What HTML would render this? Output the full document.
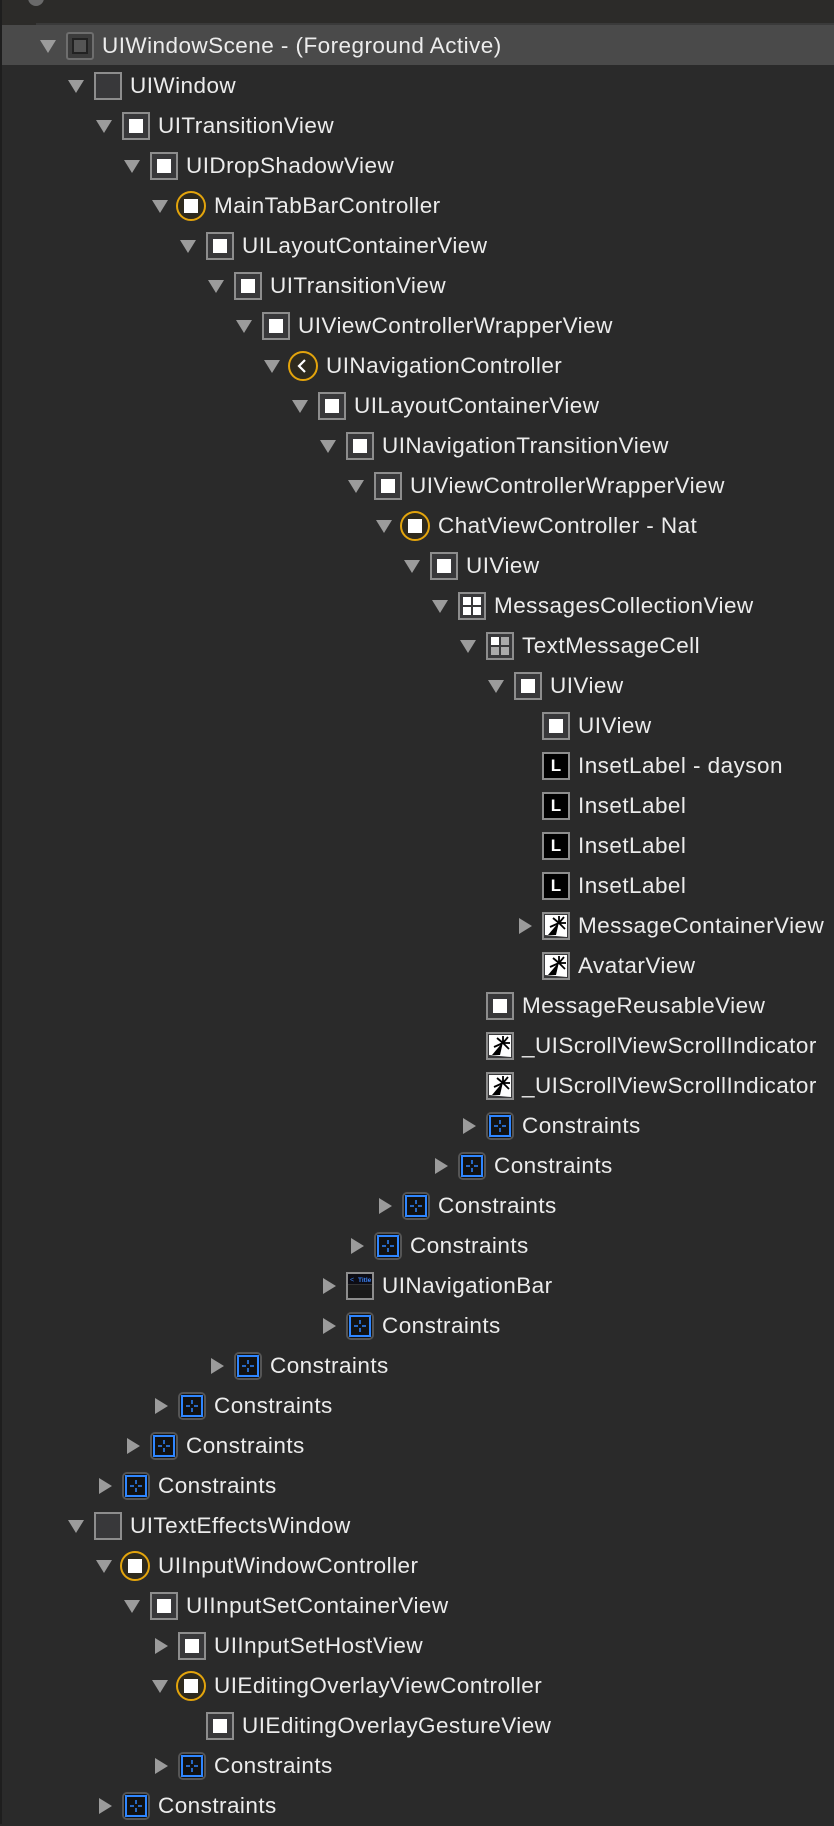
<!DOCTYPE html>
<html><head><meta charset="utf-8">
<style>
html,body{margin:0;padding:0}
body{width:834px;height:1824px;background:#2a2a2a;position:relative;overflow:hidden;font-family:"Liberation Sans",sans-serif;}
.edge{position:absolute;left:0;top:0;width:2px;height:1824px;background:#1e1e1e}
.top{position:absolute;left:2px;top:0;width:832px;height:25px;background:#2c2b29}
.topicon{position:absolute;left:26px;top:-10px;width:16px;height:16px;border-radius:50%;background:#6a6a6a}
.sep{position:absolute;left:36px;top:23px;width:798px;height:2px;background:#3a3a3a}
.hl{position:absolute;left:2px;top:25px;width:832px;height:40px;background:#4a4a4a}
.r{position:absolute;height:40px;width:800px}
.t{position:absolute;left:62px;top:0;line-height:40px;font-size:22.5px;color:#ececec;white-space:nowrap;letter-spacing:0.45px}
.d{position:absolute;left:0px;top:14px;width:0;height:0;border-left:8px solid transparent;border-right:8px solid transparent;border-top:13px solid #9b9b9b}
.a{position:absolute;left:3px;top:12px;width:0;height:0;border-top:8px solid transparent;border-bottom:8px solid transparent;border-left:13px solid #9b9b9b}
.i{position:absolute;left:26px;top:6px;width:28px;height:28px;box-sizing:border-box;border:2px solid #8d8d8d;background:#38383a}
.v::after{content:"";position:absolute;left:5px;top:5px;width:14px;height:14px;background:#fff}
.s{border-color:#6e6e6e;border-radius:3px;background:#3c3c3c}
.s::after{content:"";position:absolute;left:4px;top:4px;width:12px;height:12px;border:2px solid #222;background:#555}
.c{left:24px;top:5px;width:30px;height:30px;border-radius:50%;border:2px solid #e3a40c;background:#2e2a1e}
.c::after{content:"";position:absolute;left:6px;top:6px;width:14px;height:14px;background:#fff}
.n{left:24px;top:5px;width:30px;height:30px;border-radius:50%;border:2px solid #e3a40c;background:#2e2a1e}
.L{background:#000}
.L::after{content:"L";position:absolute;left:0;top:0;width:24px;line-height:24px;text-align:center;color:#fff;font-weight:bold;font-size:17px}
.k{border:2px solid #555;border-radius:5px;background:#111}
.k svg,.n svg,.im svg,.g svg,.nb svg{position:absolute;left:0;top:0}
</style></head><body>
<svg width="0" height="0" style="position:absolute">
<defs>
<symbol id="K" viewBox="0 0 24 24"><rect x="2" y="2" width="20" height="20" fill="none" stroke="#2f86ff" stroke-width="2"/><g stroke="#2f86ff" stroke-width="1.5"><line x1="12" y1="6" x2="12" y2="10"/><line x1="12" y1="14" x2="12" y2="18"/><line x1="6" y1="12" x2="10" y2="12"/><line x1="14" y1="12" x2="18" y2="12"/></g></symbol>
<symbol id="M" viewBox="0 0 24 24"><polygon points="1,1 23,1 23,23 1,21" fill="#fff"/><g stroke="#000" stroke-width="1.8"><line x1="15" y1="9" x2="15" y2="2"/><line x1="15" y1="9" x2="22" y2="9"/><line x1="15" y1="9" x2="20" y2="3"/><line x1="15" y1="9" x2="21" y2="15"/><line x1="15" y1="9" x2="9" y2="4"/><line x1="15" y1="9" x2="6" y2="13"/></g><polygon points="15,8 4,21 12,21" fill="#000"/></symbol>
</defs></svg>
<div class="edge"></div>
<div class="top"><div class="topicon"></div></div>
<div class="sep"></div>
<div class="hl"></div>

<div class="r" style="top:26px;left:40px"><span class="d"></span><span class="i s"></span><span class="t">UIWindowScene - (Foreground Active)</span></div>
<div class="r" style="top:66px;left:68px"><span class="d"></span><span class="i"></span><span class="t">UIWindow</span></div>
<div class="r" style="top:106px;left:96px"><span class="d"></span><span class="i v"></span><span class="t">UITransitionView</span></div>
<div class="r" style="top:146px;left:124px"><span class="d"></span><span class="i v"></span><span class="t">UIDropShadowView</span></div>
<div class="r" style="top:186px;left:152px"><span class="d"></span><span class="i c"></span><span class="t">MainTabBarController</span></div>
<div class="r" style="top:226px;left:180px"><span class="d"></span><span class="i v"></span><span class="t">UILayoutContainerView</span></div>
<div class="r" style="top:266px;left:208px"><span class="d"></span><span class="i v"></span><span class="t">UITransitionView</span></div>
<div class="r" style="top:306px;left:236px"><span class="d"></span><span class="i v"></span><span class="t">UIViewControllerWrapperView</span></div>
<div class="r" style="top:346px;left:264px"><span class="d"></span><span class="i n"><svg width="26" height="26"><polyline points="15,7 9,13 15,19" fill="none" stroke="#fff" stroke-width="2.2"/></svg></span><span class="t">UINavigationController</span></div>
<div class="r" style="top:386px;left:292px"><span class="d"></span><span class="i v"></span><span class="t">UILayoutContainerView</span></div>
<div class="r" style="top:426px;left:320px"><span class="d"></span><span class="i v"></span><span class="t">UINavigationTransitionView</span></div>
<div class="r" style="top:466px;left:348px"><span class="d"></span><span class="i v"></span><span class="t">UIViewControllerWrapperView</span></div>
<div class="r" style="top:506px;left:376px"><span class="d"></span><span class="i c"></span><span class="t">ChatViewController - Nat</span></div>
<div class="r" style="top:546px;left:404px"><span class="d"></span><span class="i v"></span><span class="t">UIView</span></div>
<div class="r" style="top:586px;left:432px"><span class="d"></span><span class="i g"><svg width="24" height="24"><rect x="3" y="3" width="8" height="8" fill="#fff"/><rect x="13" y="3" width="8" height="8" fill="#fff"/><rect x="3" y="13" width="8" height="8" fill="#fff"/><rect x="13" y="13" width="8" height="8" fill="#fff"/></svg></span><span class="t">MessagesCollectionView</span></div>
<div class="r" style="top:626px;left:460px"><span class="d"></span><span class="i g"><svg width="24" height="24"><rect x="3" y="3" width="8" height="8" fill="#fff"/><rect x="13" y="3" width="8" height="8" fill="#aaa"/><rect x="3" y="13" width="8" height="8" fill="#aaa"/><rect x="13" y="13" width="8" height="8" fill="#aaa"/></svg></span><span class="t">TextMessageCell</span></div>
<div class="r" style="top:666px;left:488px"><span class="d"></span><span class="i v"></span><span class="t">UIView</span></div>
<div class="r" style="top:706px;left:516px"><span class="i v"></span><span class="t">UIView</span></div>
<div class="r" style="top:746px;left:516px"><span class="i L"></span><span class="t">InsetLabel - dayson</span></div>
<div class="r" style="top:786px;left:516px"><span class="i L"></span><span class="t">InsetLabel</span></div>
<div class="r" style="top:826px;left:516px"><span class="i L"></span><span class="t">InsetLabel</span></div>
<div class="r" style="top:866px;left:516px"><span class="i L"></span><span class="t">InsetLabel</span></div>
<div class="r" style="top:906px;left:516px"><span class="a"></span><span class="i im"><svg width="24" height="24"><use href="#M"/></svg></span><span class="t">MessageContainerView</span></div>
<div class="r" style="top:946px;left:516px"><span class="i im"><svg width="24" height="24"><use href="#M"/></svg></span><span class="t">AvatarView</span></div>
<div class="r" style="top:986px;left:460px"><span class="i v"></span><span class="t">MessageReusableView</span></div>
<div class="r" style="top:1026px;left:460px"><span class="i im"><svg width="24" height="24"><use href="#M"/></svg></span><span class="t">_UIScrollViewScrollIndicator</span></div>
<div class="r" style="top:1066px;left:460px"><span class="i im"><svg width="24" height="24"><use href="#M"/></svg></span><span class="t">_UIScrollViewScrollIndicator</span></div>
<div class="r" style="top:1106px;left:460px"><span class="a"></span><span class="i k"><svg width="24" height="24"><use href="#K"/></svg></span><span class="t">Constraints</span></div>
<div class="r" style="top:1146px;left:432px"><span class="a"></span><span class="i k"><svg width="24" height="24"><use href="#K"/></svg></span><span class="t">Constraints</span></div>
<div class="r" style="top:1186px;left:376px"><span class="a"></span><span class="i k"><svg width="24" height="24"><use href="#K"/></svg></span><span class="t">Constraints</span></div>
<div class="r" style="top:1226px;left:348px"><span class="a"></span><span class="i k"><svg width="24" height="24"><use href="#K"/></svg></span><span class="t">Constraints</span></div>
<div class="r" style="top:1266px;left:320px"><span class="a"></span><span class="i nb" style="background:#1a1a1a"><svg width="24" height="24"><rect x="0" y="0" width="24" height="10" fill="#0c0c14"/><text x="2" y="8" font-size="7" fill="#3b82f6" font-family="Liberation Sans, sans-serif">&lt;</text><text x="10" y="8" font-size="6.5" fill="#3b82f6" font-family="Liberation Sans, sans-serif" font-weight="bold">Title</text><line x1="0" y1="10.5" x2="24" y2="10.5" stroke="#333"/></svg></span><span class="t">UINavigationBar</span></div>
<div class="r" style="top:1306px;left:320px"><span class="a"></span><span class="i k"><svg width="24" height="24"><use href="#K"/></svg></span><span class="t">Constraints</span></div>
<div class="r" style="top:1346px;left:208px"><span class="a"></span><span class="i k"><svg width="24" height="24"><use href="#K"/></svg></span><span class="t">Constraints</span></div>
<div class="r" style="top:1386px;left:152px"><span class="a"></span><span class="i k"><svg width="24" height="24"><use href="#K"/></svg></span><span class="t">Constraints</span></div>
<div class="r" style="top:1426px;left:124px"><span class="a"></span><span class="i k"><svg width="24" height="24"><use href="#K"/></svg></span><span class="t">Constraints</span></div>
<div class="r" style="top:1466px;left:96px"><span class="a"></span><span class="i k"><svg width="24" height="24"><use href="#K"/></svg></span><span class="t">Constraints</span></div>
<div class="r" style="top:1506px;left:68px"><span class="d"></span><span class="i"></span><span class="t">UITextEffectsWindow</span></div>
<div class="r" style="top:1546px;left:96px"><span class="d"></span><span class="i c"></span><span class="t">UIInputWindowController</span></div>
<div class="r" style="top:1586px;left:124px"><span class="d"></span><span class="i v"></span><span class="t">UIInputSetContainerView</span></div>
<div class="r" style="top:1626px;left:152px"><span class="a"></span><span class="i v"></span><span class="t">UIInputSetHostView</span></div>
<div class="r" style="top:1666px;left:152px"><span class="d"></span><span class="i c"></span><span class="t">UIEditingOverlayViewController</span></div>
<div class="r" style="top:1706px;left:180px"><span class="i v"></span><span class="t">UIEditingOverlayGestureView</span></div>
<div class="r" style="top:1746px;left:152px"><span class="a"></span><span class="i k"><svg width="24" height="24"><use href="#K"/></svg></span><span class="t">Constraints</span></div>
<div class="r" style="top:1786px;left:96px"><span class="a"></span><span class="i k"><svg width="24" height="24"><use href="#K"/></svg></span><span class="t">Constraints</span></div>
</body></html>
